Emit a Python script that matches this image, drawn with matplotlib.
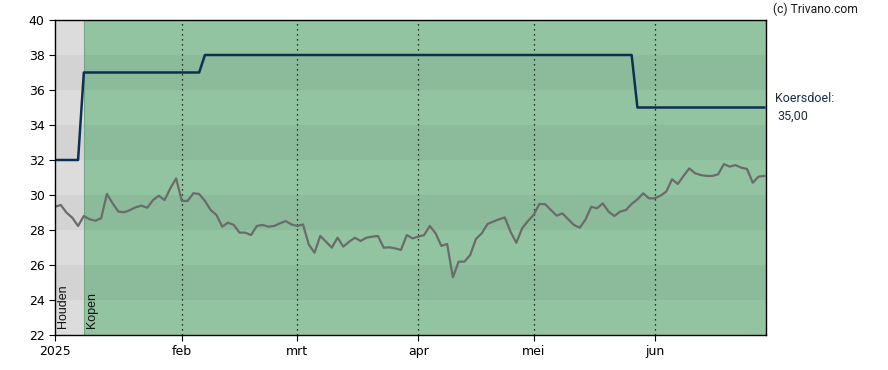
import matplotlib.pyplot as plt
import numpy as np

# Koersverloop (slotkoersen per handelsdag, jan - jun 2025)
koers = [
    29.33, 29.43, 28.99, 28.70, 28.23, 28.80, 28.61, 28.53, 28.67, 30.06,
    29.52, 29.05, 29.01, 29.14, 29.30, 29.39, 29.27, 29.71, 29.96, 29.71,
    30.38, 30.95, 29.66, 29.66, 30.10, 30.06, 29.66, 29.14, 28.86, 28.19,
    28.42, 28.29, 27.85, 27.85, 27.71, 28.23, 28.29, 28.19, 28.23, 28.38,
    28.51, 28.32, 28.23, 28.32, 27.18, 26.70, 27.66, 27.33, 26.99, 27.56,
    27.05, 27.33, 27.56, 27.37, 27.56, 27.62, 27.66, 26.99, 27.01, 26.95,
    26.86, 27.71, 27.52, 27.62, 27.71, 28.23, 27.81, 27.09, 27.20, 25.30,
    26.19, 26.19, 26.57, 27.49, 27.81, 28.34, 28.48, 28.61, 28.72, 27.90,
    27.27, 28.09, 28.51, 28.86, 29.49, 29.47, 29.14, 28.82, 28.95, 28.61,
    28.29, 28.13, 28.60, 29.33, 29.24, 29.52, 29.05, 28.80, 29.05, 29.14,
    29.49, 29.75, 30.10, 29.81, 29.81, 29.96, 30.19, 30.90, 30.63, 31.09,
    31.52, 31.24, 31.14, 31.09, 31.09, 31.18, 31.77, 31.62, 31.71, 31.56,
    31.49, 30.70, 31.05, 31.09,
]

# Koersdoel: (start-index, waarde)
doel_start = [0, 5, 26, 101]
doel_waarde = [32.0, 37.0, 38.0, 35.0]

# Advies-periodes: (start, eind, label)
advies_start = [0, 5]
advies_label = ['Houden', 'Kopen']

maand_pos = [0, 22, 42, 63, 83, 104]
maand_labels = ['2025', 'feb', 'mrt', 'apr', 'mei', 'jun']

x = np.arange(len(koers))
x_end = 123.3

# koersdoel per dag
doel = np.zeros(len(koers))
for s, w in zip(doel_start, doel_waarde):
    doel[s:] = w

fig = plt.figure(figsize=(8.88, 3.70), dpi=100)
ax = fig.add_axes([55 / 888, 35 / 370, 711 / 888, 315 / 370])

plt.rcParams['font.family'] = ['Liberation Sans', 'DejaVu Sans']

# achtergrond: grijs (houden) en groen (kopen), met banden per 2 eenheden
licht = {'Houden': '#dcdcdc', 'Kopen': '#93c4a2'}
donker = {'Houden': '#d3d3d3', 'Kopen': '#8bbb9a'}
grenzen = advies_start + [x_end]
for i, lab in enumerate(advies_label):
    x0, x1 = grenzen[i], grenzen[i + 1]
    for y0 in range(22, 40, 2):
        kleur = donker[lab] if y0 in (24, 28, 32, 36) else licht[lab]
        ax.fill_between([x0, x1], y0, y0 + 2, color=kleur, lw=0, zorder=0)
    ax.text(x0 + 1.4, 22.4, lab, rotation=90, ha='center', va='bottom',
            fontsize=9, color='#111111', zorder=3)
ax.axvline(advies_start[1], color='#6fa882', lw=0.8, zorder=1)

# maandlijnen
for p in maand_pos[1:]:
    ax.axvline(p, color='black', lw=0.9, ls=(0, (1, 3)), zorder=1)

ax.plot(x, koers, color='#6b6b6b', lw=1.6, zorder=2)
ax.plot(x, doel, color='#0d3050', lw=1.8, zorder=2)

ax.set_xlim(0, x_end)
ax.set_ylim(22, 40)
ax.set_yticks(range(22, 41, 2))
ax.set_xticks(maand_pos)
ax.set_xticklabels(maand_labels)
ax.tick_params(axis='both', labelsize=9, length=4, width=0.8, direction='out')
for s in ax.spines.values():
    s.set_linewidth(1.0)

fig.text(773 / 888, 1 - 9 / 370, '(c) Trivano.com', fontsize=8.7,
         family=['Roboto', 'DejaVu Sans'], color='#1a1a1a', va='center')
fig.text(775 / 888, 1 - 99 / 370, 'Koersdoel:', fontsize=9,
         family=['Roboto', 'DejaVu Sans'], color='#1e2e40', va='center')
fig.text(777 / 888, 1 - 116 / 370, '35,00', fontsize=9,
         family=['Roboto', 'DejaVu Sans'], color='#1e2e40', va='center')

plt.savefig('out.png', dpi=100)
